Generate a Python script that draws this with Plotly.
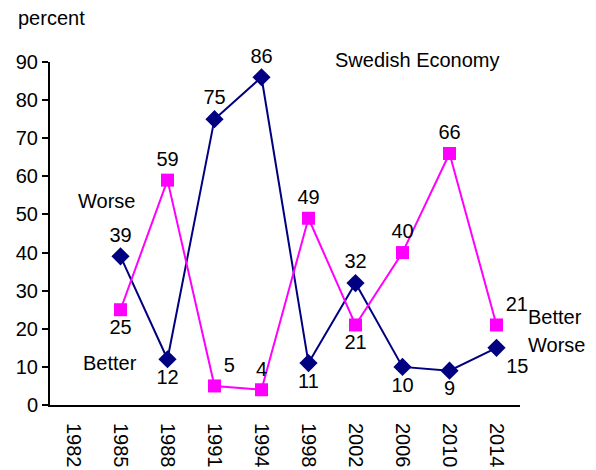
import plotly.graph_objects as go

years = ["1982", "1985", "1988", "1991", "1994", "1998", "2002", "2006", "2010", "2014"]
worse_years = years[1:]
worse = [39, 12, 75, 86, 11, 32, 10, 9, 15]
better = [25, 59, 5, 4, 49, 21, 40, 66, 21]

NAVY = "#000080"
MAGENTA = "#FF00FF"
FONT = "Liberation Sans, Arial, sans-serif"

worse_pos = ["top center", "bottom center", "top center", "top center", "bottom center",
             "top center", "bottom center", "bottom center", "bottom right"]
better_pos = ["bottom center", "top center", "top right", "top center", "top center",
              "bottom center", "top center", "top center", "top right"]

fig = go.Figure()

fig.add_trace(go.Scatter(
    x=worse_years, y=worse, mode="lines+markers+text",
    text=[str(v) for v in worse], textposition=worse_pos,
    line=dict(color=NAVY, width=2),
    marker=dict(symbol="diamond", size=14, color=NAVY),
    textfont=dict(size=20, color="black", family=FONT),
    name="Worse", cliponaxis=False,
))
fig.add_trace(go.Scatter(
    x=worse_years, y=better, mode="lines+markers+text",
    text=[str(v) for v in better], textposition=better_pos,
    line=dict(color=MAGENTA, width=2),
    marker=dict(symbol="square", size=13, color=MAGENTA),
    textfont=dict(size=20, color="black", family=FONT),
    name="Better", cliponaxis=False,
))

notes = [
    ("percent", 0.004, 1.128, "center"),
    ("Swedish Economy", 0.781, 1.006, "center"),
    ("Worse", 0.121, 0.595, "center"),
    ("Better", 0.128, 0.122, "center"),
    ("Better", 1.013, 0.257, "left"),
    ("Worse", 1.013, 0.175, "left"),
]
for txt, nx, ny, anchor in notes:
    fig.add_annotation(text=txt, x=nx, y=ny, xref="paper", yref="paper",
                       xanchor=anchor, yanchor="middle", showarrow=False,
                       font=dict(size=20, color="black", family=FONT))

fig.update_xaxes(
    type="category", categoryorder="array", categoryarray=years,
    range=[-0.5, 9.5], showline=True, linecolor="black", linewidth=2,
    showgrid=False, ticks="", tickangle=90, ticklabelstandoff=12,
    tickfont=dict(size=20, color="black", family=FONT),
)
fig.update_yaxes(
    range=[0, 90], dtick=10, showline=True, linecolor="black", linewidth=2,
    showgrid=False, zeroline=False, ticks="outside", ticklen=6, tickwidth=2,
    tickcolor="black", tickfont=dict(size=20, color="black", family=FONT),
)
fig.update_layout(
    width=596, height=470, showlegend=False,
    margin=dict(l=42, r=84, t=54, b=73, autoexpand=False),
    plot_bgcolor="white", paper_bgcolor="white",
    font=dict(family=FONT, color="black"),
)

fig.write_html("out.html")
